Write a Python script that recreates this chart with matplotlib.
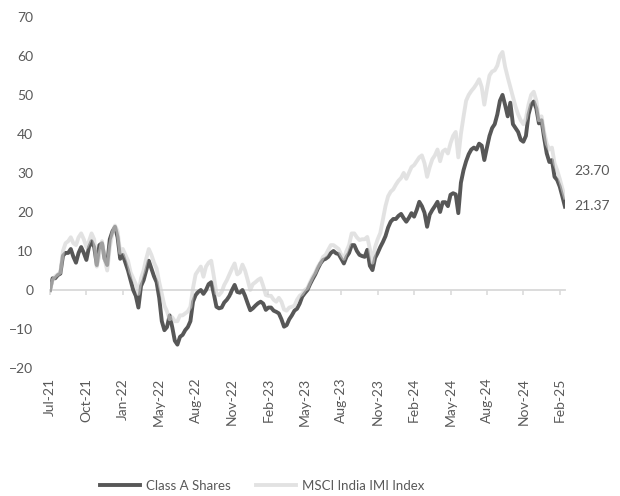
import matplotlib.pyplot as plt

plt.rcParams["font.family"] = ["Lato", "DejaVu Sans"]

# Cumulative return (%), one value per point
class_a = [
    0, 3, 3, 3.8, 4.2, 8.8, 9.5, 9.5, 10.5, 8.5,
    7, 9.5, 11, 9.5, 7.7, 11, 12.5, 11, 6.4, 11.5,
    12, 8, 6.4, 13, 15, 16.2, 13.5, 8, 9, 7,
    5, 2.5, 0, -1.5, -4.5, 1, 2.5, 5, 7.5, 5.5,
    3.5, 2, -2, -8, -10.3, -9.5, -6.5, -9.5, -13, -14,
    -12, -11.5, -10.3, -9.5, -8, -3, -1.3, -0.5, 0, -1,
    0, 1.5, 2, -1, -4.3, -4.7, -4.5, -3.2, -2.5, -1.5,
    0, 1.3, -0.5, -0.7, 0, -1.5, -3.4, -5.2, -4.7, -4,
    -3.4, -3, -3.5, -5.1, -4.5, -4.5, -5.3, -5.6, -6, -7.5,
    -9.4, -9, -7.5, -6.5, -5.3, -4.8, -3.5, -1.7, -0.8, 0,
    1.5, 2.8, 4, 5.5, 6.8, 7.7, 8, 8.5, 9.5, 10,
    9.4, 9.2, 8, 6.8, 8.5, 9.5, 11.5, 11.5, 10, 9,
    8.7, 8.5, 10.3, 6.2, 5.1, 8.2, 9.5, 11, 12.3, 13.8,
    16, 17.5, 18.2, 18.2, 19, 19.5, 18.4, 17.5, 18.5, 19.7,
    18.8, 20.5, 22.6, 21.5, 19.8, 16.2, 19.3, 20.5, 21.5, 22.6,
    20, 22.5, 22.5, 21.5, 24.4, 24.8, 24.5, 19.7, 27.5, 30.7,
    33, 34.8, 36, 36.5, 36, 37.5, 37, 33.3, 36.5, 39.5,
    41.5, 42.5, 45, 48.5, 50, 47.4, 44.5, 48, 42.5, 41.5,
    40.5, 38.5, 38, 39.5, 45, 47.5, 48.3, 46.5, 42.7, 43.5,
    39, 35, 32.8, 33.3, 29, 28.2, 26.5, 24, 21.37,
]
msci_india = [
    0, 2.5, 3.5, 4, 4.5, 10, 12, 12.5, 13.5, 12,
    11.5, 13.5, 14.5, 13, 11, 12.5, 14.5, 13, 6, 9,
    12.5, 8, 5, 11, 14.5, 16.5, 15, 9.5, 10.5, 9,
    7.5, 4.5, 3, 1.5, -1, 3, 5, 8, 10.5, 9,
    7, 5.5, 2, -1, -4, -5.5, -7.5, -7, -8, -8,
    -6.5, -6.5, -6, -5.5, -4.3, 0.5, 4, 5, 6, 3.4,
    6, 7, 7.5, 3.5, -0.9, -1.3, -0.5, 1.3, 2.5, 4,
    5.5, 6.8, 4, 4.5, 6.5, 5, 2.6, 0, 1.5, 2,
    2.6, 3, 1, -1.3, -1.5, -1.5, -2.5, -3, -2, -3,
    -5, -5.3, -4.5, -4.3, -4, -2.5, -1.5, -1, 0, 0.5,
    2, 3.4, 4.5, 6, 7, 8.5, 9, 10.3, 11.5, 11.5,
    11, 10.5, 9, 8, 10, 11.5, 14.5, 14.5, 13.5, 12.8,
    13, 13, 13.6, 10.5, 7, 11, 13, 14.6, 18, 21.5,
    24, 25.2, 25.8, 27, 28, 28.7, 30, 28.5, 30, 31.5,
    32, 33, 34, 34.5, 32.5, 29, 31.5, 33.5, 34.5, 36,
    33, 35.5, 36, 35, 37.6, 39.5, 40.5, 34, 40, 44.4,
    48.5, 50, 51, 51.8, 52.8, 54, 52, 47.5, 51.5, 55,
    56, 56.3, 57.5, 60, 61, 57.2, 54.5, 52, 49.5, 47,
    45, 43.5, 42.5, 44, 47.5, 50, 50.8, 48.5, 43.5, 44.5,
    40.5, 37.5, 36, 36.5, 32.5, 30.7, 28.5, 26, 23.70,
]
tick_labels = [
    "Jul-21", "Oct-21", "Jan-22", "May-22", "Aug-22", "Nov-22", "Feb-23",
    "May-23", "Aug-23", "Nov-23", "Feb-24", "May-24", "Aug-24", "Nov-24",
    "Feb-25",
]

text_color = "#595959"
dark = "#575757"
light = "#D0D0D0"
axis_gray = "#D9D9D9"

fig = plt.figure(figsize=(6.2, 4.96), dpi=100)
ax = fig.add_axes([0.0806, 0.258, 0.8306, 0.708])

x = list(range(len(class_a)))
ax.plot(x, class_a, color=dark, lw=2.8, label="Class A Shares", zorder=3)
ax.plot(x, msci_india, color=light, lw=2.8, alpha=0.6,
        label="MSCI India IMI Index", zorder=4)

ax.set_xlim(0, len(class_a) - 1)
ax.set_ylim(-20, 70)
ax.set_yticks(range(-20, 71, 10))

tick_pos = [14 * k for k in range(len(tick_labels))]

# horizontal axis line at zero with small tick marks
for s in ["top", "right", "left"]:
    ax.spines[s].set_visible(False)
ax.spines["bottom"].set_position(("data", 0))
ax.spines["bottom"].set_color(axis_gray)
ax.spines["bottom"].set_linewidth(1.3)
ax.set_xticks(tick_pos)
ax.tick_params(axis="x", direction="out", length=3.8, width=1.1,
               color=axis_gray, labelbottom=False)
ax.tick_params(axis="y", length=0, pad=12, labelsize=10, labelcolor=text_color)

# category labels at the bottom of the plot
sec = ax.secondary_xaxis("bottom")
sec.set_xticks(tick_pos)
sec.set_xticklabels(tick_labels, rotation=90)
sec.spines["bottom"].set_visible(False)
sec.tick_params(length=0, pad=7, labelsize=10, labelcolor=text_color)

# end-value labels
ax.annotate(f"{msci_india[-1]:.2f}", xy=(x[-1], msci_india[-1]),
            xytext=(9, 27), textcoords="offset pixels", va="center",
            fontsize=10, color=text_color, annotation_clip=False)
ax.annotate(f"{class_a[-1]:.2f}", xy=(x[-1], class_a[-1]),
            xytext=(9, 1), textcoords="offset pixels", va="center",
            fontsize=10, color=text_color, annotation_clip=False)

handles, labels = ax.get_legend_handles_labels()
fig.legend(handles, labels, loc="center", bbox_to_anchor=(0.423, 0.02),
           ncol=2, frameon=False, fontsize=9.5, labelcolor=text_color,
           handlelength=3.0, columnspacing=1.9, handletextpad=0.5)

fig.savefig("out.png", dpi=100)
